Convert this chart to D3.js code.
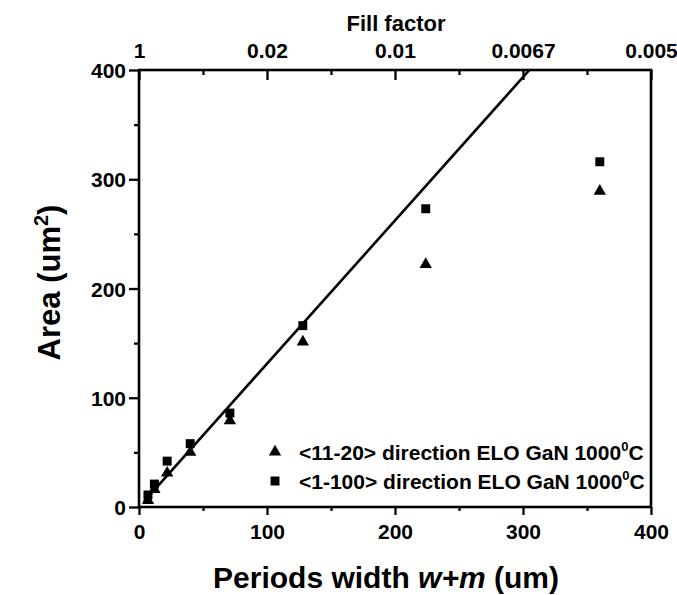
<!DOCTYPE html>
<html><head><meta charset="utf-8">
<script src="https://cdn.jsdelivr.net/npm/d3@7"></script>
<style>body{margin:0;background:#fff}svg{display:block}text{font-family:"Liberation Sans",Arial,sans-serif;font-weight:bold;fill:#000}</style>
</head><body>
<svg id="c" width="677" height="595"></svg>
<script>
const periods = [7, 12, 22, 40, 71, 128, 224, 360];
const area1120 = [7, 17, 32, 51, 80, 152, 223, 290];
const area1100 = [11, 21, 42, 58, 86, 166, 273, 316];
const fitLine = [{x: 4, y: 5.2}, {x: 305, y: 400}];
const xTicks = [0, 100, 200, 300, 400];
const yTicks = [0, 100, 200, 300, 400];
const fillTicks = [0, 100, 200, 300, 400];
const fillLabels = ["1", "0.02", "0.01", "0.0067", "0.005"];
const seriesNames = ["<11-20> direction ELO GaN 1000", "<1-100> direction ELO GaN 1000"];

const svg = d3.select("#c");
const L = 139, R = 651, T = 70, B = 507;
const x = d3.scaleLinear().domain([0, 400]).range([L, R]);
const y = d3.scaleLinear().domain([0, 400]).range([B, T]);

svg.append("clipPath").attr("id", "pc").append("rect")
  .attr("x", L).attr("y", T).attr("width", R - L).attr("height", B - T);

// fit line
svg.append("path").datum(fitLine).attr("clip-path", "url(#pc)")
  .attr("d", d3.line().x(d => x(d.x)).y(d => y(d.y)))
  .attr("stroke", "#000").attr("stroke-width", 2.6).attr("fill", "none");

const minorX = d3.range(50, 400, 100);
function styleAxis(g){ g.select(".domain").remove(); g.selectAll("line").attr("stroke","#000").attr("stroke-width",2.3); g.selectAll("text").style("font-size","21px").style("font-weight","bold"); }

const gx = svg.append("g").attr("transform", `translate(0,${B})`)
  .call(d3.axisBottom(x).tickValues(xTicks).tickSize(8).tickPadding(9).tickFormat(d3.format("d")));
styleAxis(gx);
const gxm = svg.append("g").attr("transform", `translate(0,${B})`)
  .call(d3.axisBottom(x).tickValues(minorX).tickSize(4).tickFormat(""));
styleAxis(gxm);

const gy = svg.append("g").attr("transform", `translate(${L},0)`)
  .call(d3.axisLeft(y).tickValues(yTicks).tickSize(10).tickPadding(3).tickFormat(d3.format("d")));
styleAxis(gy);
gy.selectAll("text").attr("dy", "0.36em");
const gym = svg.append("g").attr("transform", `translate(${L},0)`)
  .call(d3.axisLeft(y).tickValues(minorX).tickSize(5).tickFormat(""));
styleAxis(gym);

const gt = svg.append("g").attr("transform", `translate(0,${T})`)
  .call(d3.axisTop(x).tickValues(fillTicks).tickSize(-10).tickPadding(12).tickFormat((d, i) => fillLabels[i]));
styleAxis(gt);
const gtm = svg.append("g").attr("transform", `translate(0,${T})`)
  .call(d3.axisTop(x).tickValues(minorX).tickSize(-5).tickFormat(""));
styleAxis(gtm);

// frame
svg.append("rect").attr("x", L).attr("y", T).attr("width", R - L).attr("height", B - T)
  .attr("fill", "none").attr("stroke", "#000").attr("stroke-width", 2.6);

// markers
const tri = d3.symbol().type(d3.symbolTriangle).size(66);
const sqr = d3.symbol().type(d3.symbolSquare).size(80);
svg.append("g").selectAll("path").data(periods).join("path")
  .attr("d", tri).attr("transform", (d, i) => `translate(${x(d)},${y(area1120[i]) + 1})`).attr("fill", "#000");
svg.append("g").selectAll("path").data(periods).join("path")
  .attr("d", sqr).attr("transform", (d, i) => `translate(${x(d)},${y(area1100[i])})`).attr("fill", "#000");

// legend
const lg = svg.append("g");
[[tri, 452], [sqr, 481]].forEach(([s, ly], i) => {
  lg.append("path").attr("d", s).attr("transform", `translate(275,${ly})`).attr("fill", "#000");
  const t = lg.append("text").attr("x", 299).attr("y", ly + 7.5).style("font-size", "21px");
  t.append("tspan").text(seriesNames[i]);
  t.append("tspan").attr("dy", -9).style("font-size", "13px").text("0");
  t.append("tspan").attr("dy", 9).text("C");
});

// titles
const xt = svg.append("text").attr("x", 386).attr("y", 588).attr("text-anchor", "middle").style("font-size", "30px");
xt.append("tspan").text("Periods width ");
xt.append("tspan").style("font-style", "italic").text("w+m");
xt.append("tspan").text(" (um)");

const yt = svg.append("text").attr("transform", `translate(60,${(T + B) / 2 - 6}) rotate(-90)`).attr("text-anchor", "middle").style("font-size", "31px");
yt.append("tspan").text("Area (um");
yt.append("tspan").attr("dy", -12).style("font-size", "20px").text("2");
yt.append("tspan").attr("dy", 12).text(")");

svg.append("text").attr("x", 396).attr("y", 31).attr("text-anchor", "middle").style("font-size", "22px").text("Fill factor");
</script>
</body></html>
